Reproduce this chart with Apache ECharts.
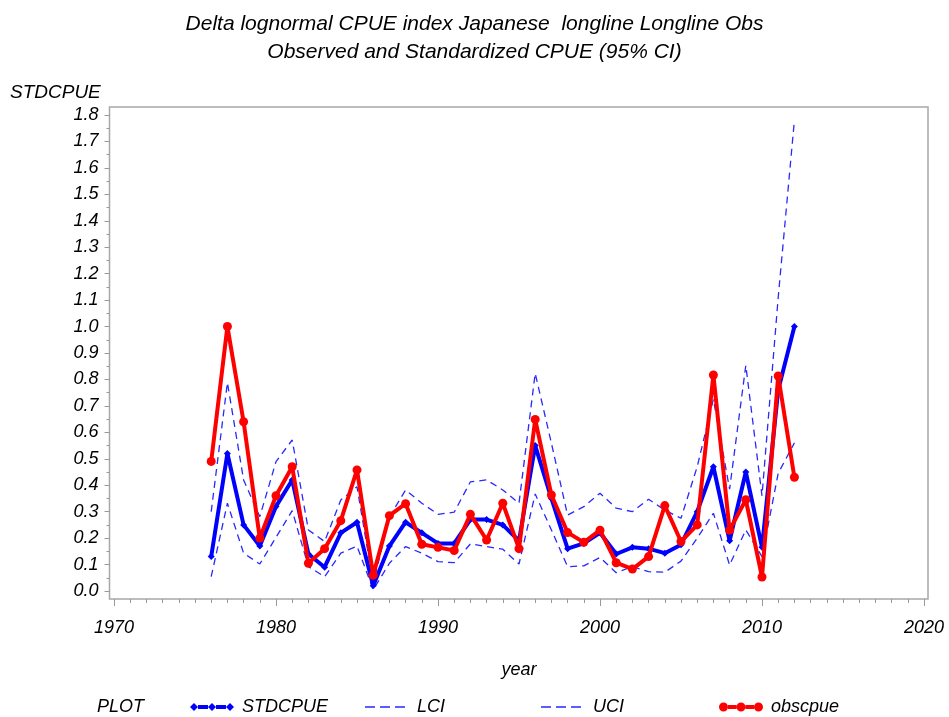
<!DOCTYPE html>
<html><head><meta charset="utf-8">
<script src="https://cdn.jsdelivr.net/npm/echarts@6/dist/echarts.min.js"></script>
<style>html,body{margin:0;padding:0;background:#fff}#c{width:949px;height:717px}</style>
</head><body><div id="c"></div>
<script>
const years = [1976,1977,1978,1979,1980,1981,1982,1983,1984,1985,1986,1987,1988,1989,1990,1991,1992,1993,1994,1995,1996,1997,1998,1999,2000,2001,2002,2003,2004,2005,2006,2007,2008,2009,2010,2011,2012];
const stdcpue = [0.13,0.52,0.25,0.17,0.32,0.42,0.14,0.09,0.22,0.26,0.02,0.17,0.26,0.22,0.18,0.18,0.27,0.27,0.25,0.19,0.55,0.35,0.16,0.18,0.22,0.14,0.165,0.16,0.143,0.175,0.30,0.47,0.19,0.45,0.165,0.76,1.0];
const lci = [0.054,0.332,0.143,0.102,0.203,0.304,0.092,0.054,0.143,0.17,0.005,0.105,0.168,0.143,0.111,0.107,0.178,0.168,0.158,0.102,0.367,0.231,0.092,0.095,0.127,0.069,0.092,0.073,0.071,0.113,0.2,0.294,0.098,0.231,0.13,0.445,0.56];
const uci = [0.30,0.788,0.42,0.281,0.489,0.571,0.231,0.187,0.344,0.394,0.029,0.28,0.382,0.332,0.29,0.298,0.413,0.42,0.382,0.332,0.823,0.559,0.287,0.319,0.37,0.313,0.30,0.347,0.306,0.275,0.47,0.725,0.385,0.853,0.36,1.11,1.78];
const obscpue = [0.49,1.0,0.64,0.20,0.36,0.47,0.105,0.16,0.266,0.458,0.06,0.285,0.33,0.177,0.165,0.153,0.29,0.193,0.332,0.16,0.649,0.363,0.221,0.184,0.23,0.107,0.083,0.13,0.323,0.187,0.25,0.817,0.23,0.345,0.053,0.813,0.43];

const titleLines = ['Delta lognormal CPUE index Japanese  longline Longline Obs', 'Observed and Standardized CPUE (95% CI)'];
const yAxisTitle = 'STDCPUE';
const xAxisTitle = 'year';
const legendTitle = 'PLOT';

const F = 'Liberation Sans, Arial, sans-serif';
const txt = {fontFamily: F, fontStyle: 'italic', color: '#000', fontSize: 18};
const pairs = arr => years.map((y, i) => [y, arr[i]]);

// legend icons (line with three markers / dashed line)
const circ = cx => 'M' + (cx - 4.5) + ',5a4.5,4.5 0 1,0 9,0a4.5,4.5 0 1,0 -9,0z';
const diam = cx => 'M' + (cx - 4) + ',5L' + cx + ',1L' + (cx + 4) + ',5L' + cx + ',9z';
const iconObs = 'path://M9,3h8.5v4h-8.5z M26.5,3h8.5v4h-8.5z ' + circ(4.5) + ' ' + circ(22) + ' ' + circ(39.5);
const iconStd = 'path://M8,3h10v4h-10z M26,3h10v4h-10z ' + diam(4) + ' ' + diam(22) + ' ' + diam(40);
const iconDash = 'path://M0,0h10v1.5h-10z M15,0h10v1.5h-10z M30,0h10v1.5h-10z';

const chart = echarts.init(document.getElementById('c'), null, {renderer: 'canvas'});
const dashed = {color: '#2828ff', width: 1.3, type: [7, 5]};
const legTxt = p => Object.assign({}, txt, {padding: [0, 0, 0, p]});
const LT = 693;
chart.setOption({
  animation: false,
  backgroundColor: '#fff',
  title: {
    text: titleLines.join('\n'), left: 'center', top: 5,
    textStyle: Object.assign({}, txt, {fontSize: 21, fontWeight: 'normal', lineHeight: 28})
  },
  grid: {left: 114, right: 25, top: 115, bottom: 126, containLabel: false},
  xAxis: {
    type: 'value', min: 1970, max: 2020, interval: 10, offset: 8,
    axisLine: {show: false, onZero: false},
    axisTick: {show: true, length: 7, lineStyle: {color: '#999', width: 1}},
    minorTick: {show: true, splitNumber: 10, length: 4, lineStyle: {color: '#999', width: 1}},
    splitLine: {show: false},
    axisLabel: Object.assign({}, txt, {margin: 20, formatter: v => String(v)}),
    name: xAxisTitle, nameLocation: 'middle', nameGap: 62,
    nameTextStyle: Object.assign({}, txt)
  },
  yAxis: {
    type: 'value', min: 0, max: 1.8, interval: 0.1, offset: 4.5,
    axisLine: {show: false, onZero: false},
    axisTick: {show: true, length: 5, lineStyle: {color: '#999', width: 1}},
    minorTick: {show: true, splitNumber: 2, length: 3, lineStyle: {color: '#999', width: 1}},
    splitLine: {show: false},
    axisLabel: Object.assign({}, txt, {margin: 11, formatter: v => v.toFixed(1)})
  },
  legend: [
    {data: [{name: 'STDCPUE', icon: iconStd}], left: 185, top: LT, itemWidth: 44, itemHeight: 10, textStyle: legTxt(3)},
    {data: [{name: 'LCI', icon: iconDash}], left: 360, top: LT, itemWidth: 40, itemHeight: 1.5, textStyle: legTxt(7)},
    {data: [{name: 'UCI', icon: iconDash}], left: 536, top: LT, itemWidth: 40, itemHeight: 1.5, textStyle: legTxt(7)},
    {data: [{name: 'obscpue', icon: iconObs}], left: 714, top: LT, itemWidth: 44, itemHeight: 10, textStyle: legTxt(3)}
  ],
  graphic: [
    {type: 'rect', shape: {x: 109.5, y: 107, width: 818.5, height: 492}, style: {fill: 'none', stroke: '#a8a8a8', lineWidth: 1.5}, z: 0, silent: true},
    {type: 'text', left: 10, top: 83, style: {text: yAxisTitle, fill: '#000', font: 'italic 19px ' + F}},
    {type: 'text', left: 97, top: 698, style: {text: legendTitle, fill: '#000', font: 'italic 18px ' + F}}
  ],
  series: [
    {name: 'UCI', type: 'line', data: pairs(uci), symbol: 'none', lineStyle: dashed, itemStyle: {color: '#2828ff'}, z: 2},
    {name: 'LCI', type: 'line', data: pairs(lci), symbol: 'none', lineStyle: dashed, itemStyle: {color: '#2828ff'}, z: 2},
    {name: 'STDCPUE', type: 'line', data: pairs(stdcpue), symbol: 'diamond', symbolSize: 7, lineStyle: {color: '#0000ff', width: 4}, itemStyle: {color: '#0000ff'}, z: 3},
    {name: 'obscpue', type: 'line', data: pairs(obscpue), symbol: 'circle', symbolSize: 9, lineStyle: {color: '#ff0000', width: 4}, itemStyle: {color: '#ff0000'}, z: 4}
  ]
});
</script></body></html>
